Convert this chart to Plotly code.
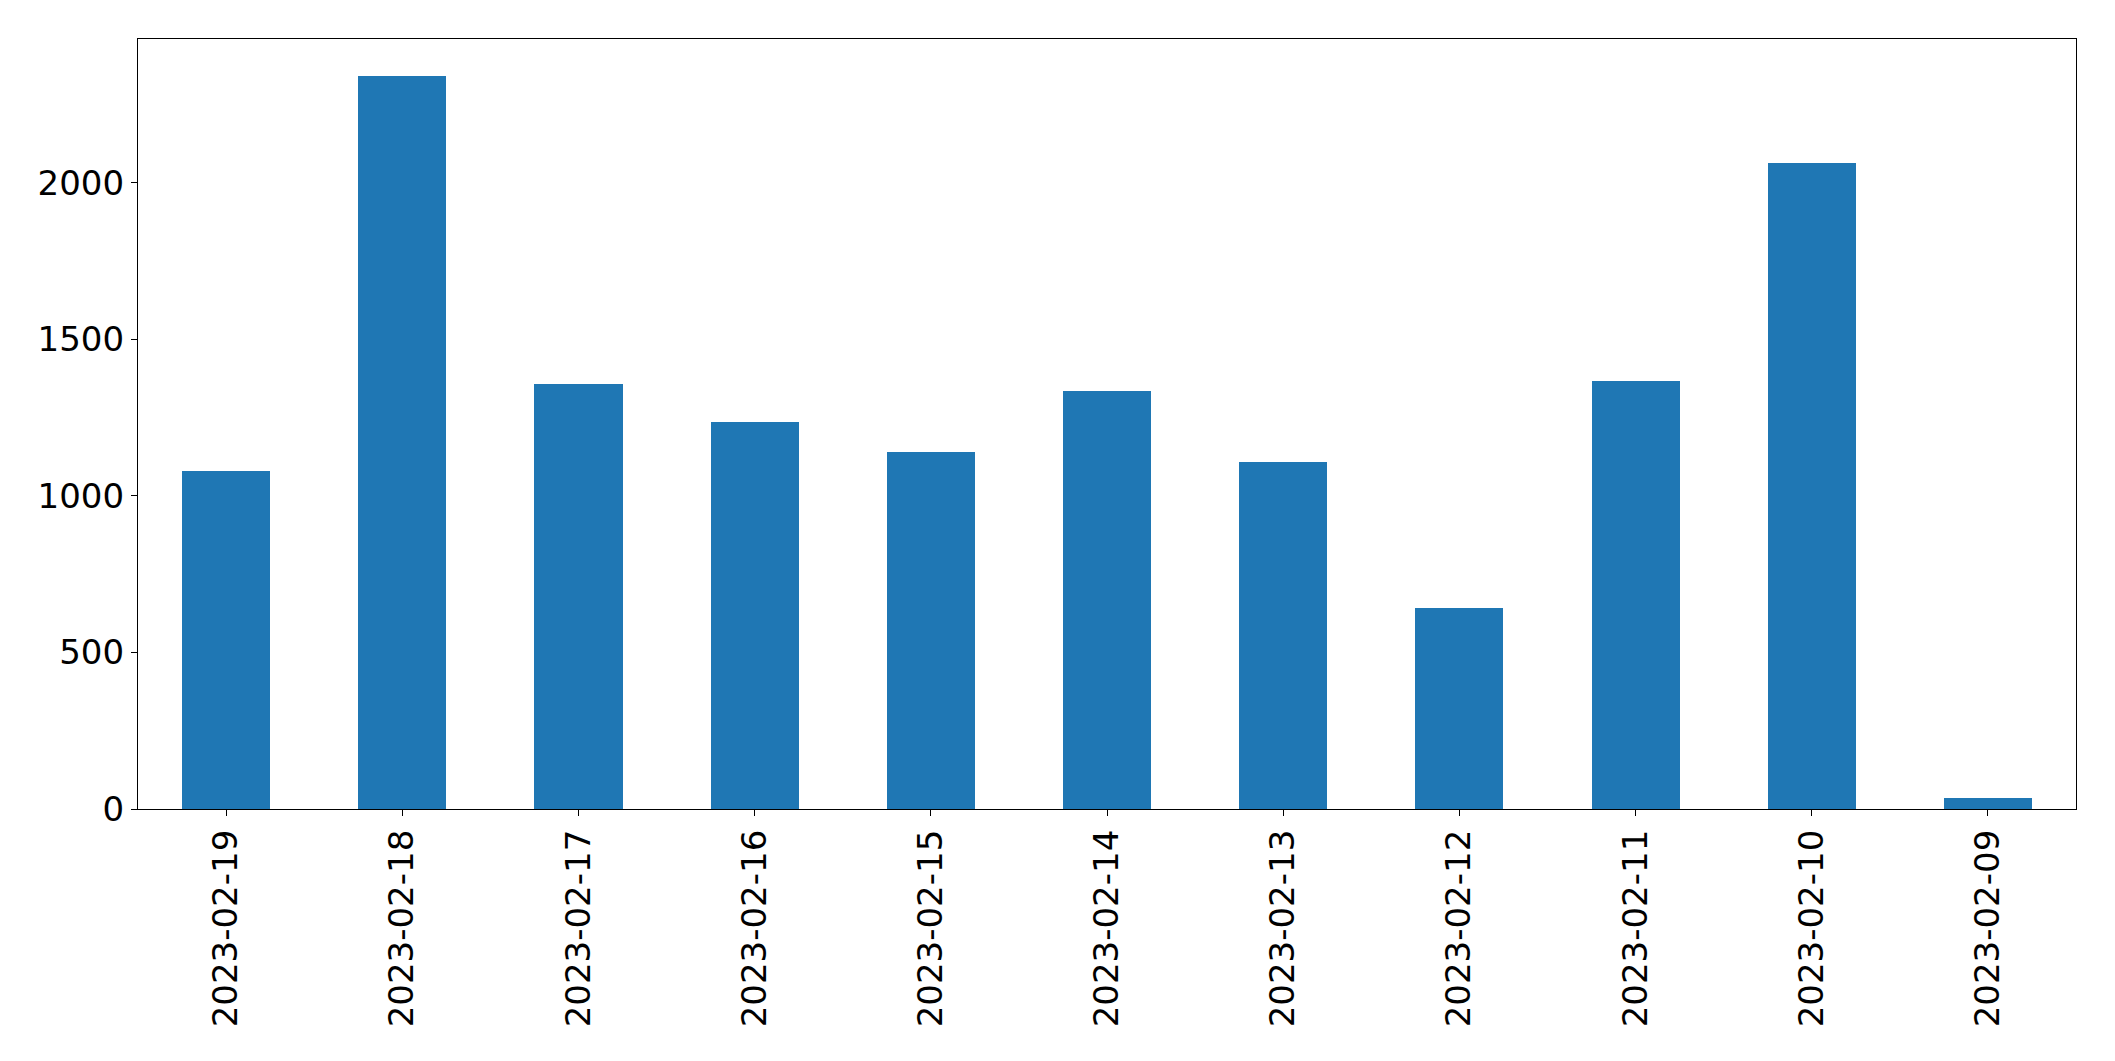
import plotly.graph_objects as go

dates = ["2023-02-19", "2023-02-18", "2023-02-17", "2023-02-16", "2023-02-15",
         "2023-02-14", "2023-02-13", "2023-02-12", "2023-02-11", "2023-02-10",
         "2023-02-09"]
counts = [1080, 2342, 1358, 1236, 1141, 1335, 1109, 642, 1367, 2064, 35]
y_ticks = [0, 500, 1000, 1500, 2000]

fig = go.Figure(go.Bar(x=dates, y=counts, width=0.5, marker=dict(color="#1f77b4", line=dict(width=0))))

W, H = 2115, 1061
FS = 34
fig.update_layout(
    width=W, height=H,
    margin=dict(l=138, r=39, t=39, b=252, pad=0),
    paper_bgcolor="white", plot_bgcolor="white",
    font=dict(family="DejaVu Sans", size=FS, color="black"),
    showlegend=False,
    bargap=0,
)
fig.update_xaxes(
    type="category", range=[-0.5, len(dates) - 0.5],
    showline=True, linecolor="black", linewidth=1.3, mirror=True,
    ticks="outside", ticklen=6, tickwidth=1.3, tickcolor="black",
    tickangle=-90, showgrid=False, zeroline=False,
    tickfont=dict(size=FS, family="DejaVu Sans", color="black"),
)
fig.update_yaxes(
    range=[0, max(counts) * 1.05],
    tickvals=y_ticks, ticktext=[str(v) for v in y_ticks],
    showline=True, linecolor="black", linewidth=1.3, mirror=True,
    ticks="outside", ticklen=6, tickwidth=1.3, tickcolor="black",
    showgrid=False, zeroline=False,
    tickfont=dict(size=FS, family="DejaVu Sans", color="black"),
)

fig.write_html("out.html", config={"displayModeBar": False},
               post_script="document.body.style.margin='0';document.body.style.overflow='hidden';")
